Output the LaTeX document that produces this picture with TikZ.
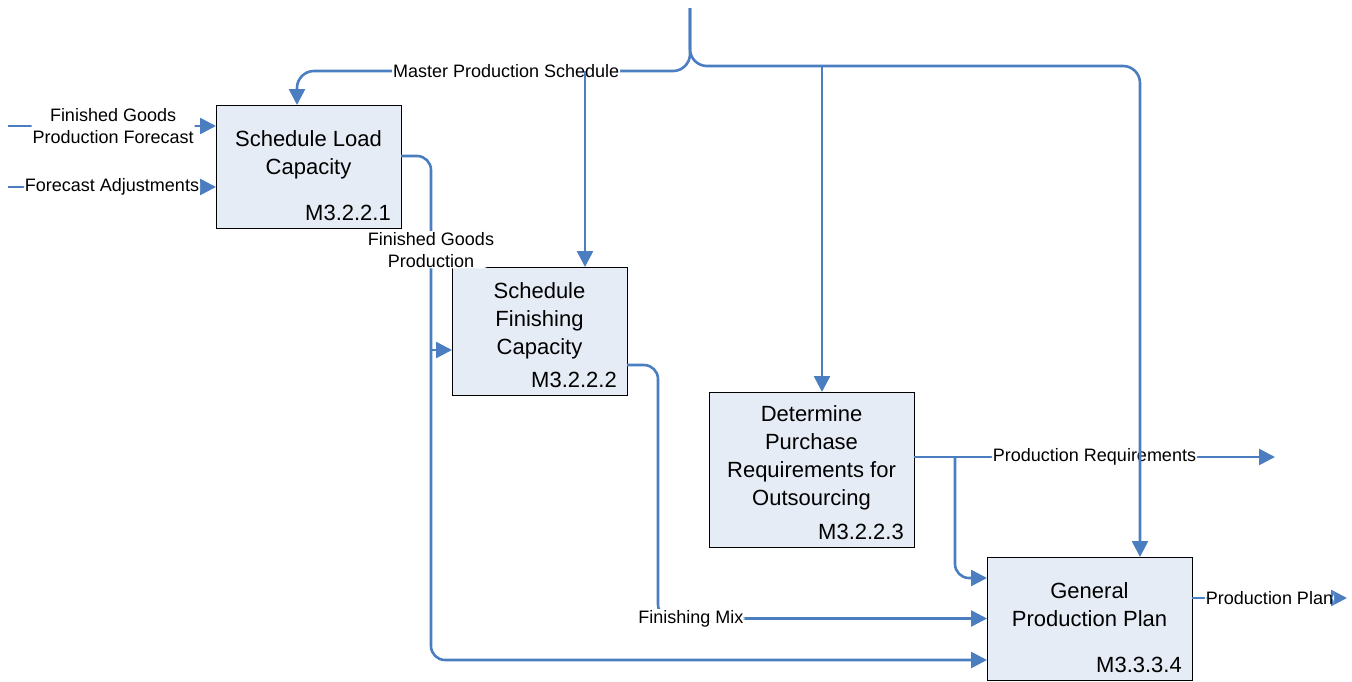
\documentclass[tikz,border=0pt]{standalone}
\usepackage{fontspec}
\setmainfont{Liberation Sans}
\usepackage{xcolor}
\usetikzlibrary{arrows.meta,positioning}
\definecolor{flowblue}{RGB}{74,126,193}
\definecolor{boxfill}{RGB}{230,236,246}

\begin{document}
\begin{tikzpicture}[x=1pt,y=-1pt,box/.style={draw=black, line width=1pt, fill=boxfill, inner sep=0pt, outer sep=0pt},boxtext/.style={align=center, inner sep=0pt, font=\fontsize{22}{28}\selectfont},
  codetext/.style={anchor=south east, inner xsep=10pt, inner ysep=7pt, font=\fontsize{22}{28}\selectfont},flow/.style={draw=flowblue, line width=2.6pt, rounded corners=14pt, -{Triangle[length=16pt,width=16pt]}},
  lbl/.style={fill=white, inner sep=1pt, align=center, font=\fontsize{18}{22}\selectfont}]
    \useasboundingbox (0,0) rectangle (1352,681);
    \node [box, minimum width=185pt, minimum height=123pt] (SL) at (308.5,166.5) {};
    \node [box, minimum width=175pt, minimum height=128pt, below right=39pt and 51pt of SL] (SF) {};
    \node [box, minimum width=205pt, minimum height=155pt, below right=-3pt and 82pt of SF] (DP) {};
    \node [box, minimum width=205pt, minimum height=123pt, below right=10pt and 73pt of DP] (GP) {};
    \node [boxtext, below=25pt of SL.north] (SLt) {Schedule Load\\Capacity};
    \node [boxtext, below=15pt of SF.north] (SFt) {Schedule\\Finishing\\Capacity};
    \node [boxtext, below=13pt of DP.north] (DPt) {Determine\\Purchase\\Requirements for\\Outsourcing};
    \node [boxtext, below=25pt of GP.north] (GPt) {General\\Production Plan};
    \node [codetext] (SLc) at (SL.south east) {M3.2.2.1};
    \node [codetext] (SFc) at (SF.south east) {M3.2.2.2};
    \node [codetext] (DPc) at (DP.south east) {M3.2.2.3};
    \node [codetext] (GPc) at (GP.south east) {M3.3.3.4};
    \coordinate (top) at (690,8);
    \coordinate (inFG) at (8,126);
    \coordinate (inFA) at (8,187);
    \coordinate (outPR) at (1275,457);
    \coordinate (outPP) at (1347,598);
    \draw[flow] (inFG) -- node[lbl, pos=0.505] (FGlbl) {Finished Goods\\Production Forecast} ([yshift=40.5pt]SL.west);
    \draw[flow] (inFA) -- node[lbl] (FAlbl) {Forecast Adjustments} ([yshift=-20.5pt]SL.west);
    \draw[flow] ([xshift=-21pt,yshift=-19pt]SF.west) -- ([yshift=-19pt]SF.west);
    \draw[flow] ([yshift=10.5pt]SL.east) -| node[lbl, pos=0.593] (FGPlbl) {Finished Goods\\Production} ([xshift=-556pt,yshift=-41.5pt]GP.west) -- ([yshift=-41.5pt]GP.west);
    \draw[flow] ([yshift=-34pt]SF.east) -| ([xshift=-329pt]GP.west) -- node[lbl, pos=0.1] (FMlbl) {Finishing Mix} (GP.west);
    \draw[flow] ([yshift=12.5pt]DP.east) -- node[lbl] (PRlbl) {Production Requirements} (outPR);
    \draw[flow] ([xshift=41pt,yshift=12.5pt]DP.east) |- ([yshift=40.5pt]GP.west);
    \draw[flow] ([yshift=20.5pt]GP.east) -- node[lbl] (PPlbl) {Production Plan} (outPP);
    \draw[flow, rounded corners=17pt] (top) |- node[lbl, pos=0.734] (MPSlbl) {Master Production Schedule} ([xshift=-11.5pt,yshift=34pt]SL.north) -- ([xshift=-11.5pt]SL.north);
    \draw[flow, rounded corners=17pt] (top) |- ([xshift=50.5pt,yshift=491pt]GP.north) -- ([xshift=50.5pt]GP.north);
    \draw[flow] ([xshift=45.5pt,yshift=196pt]SF.north) -- ([xshift=45.5pt]SF.north);
    \draw[flow] ([xshift=10.5pt,yshift=326pt]DP.north) -- ([xshift=10.5pt]DP.north);
\end{tikzpicture}
\end{document}
